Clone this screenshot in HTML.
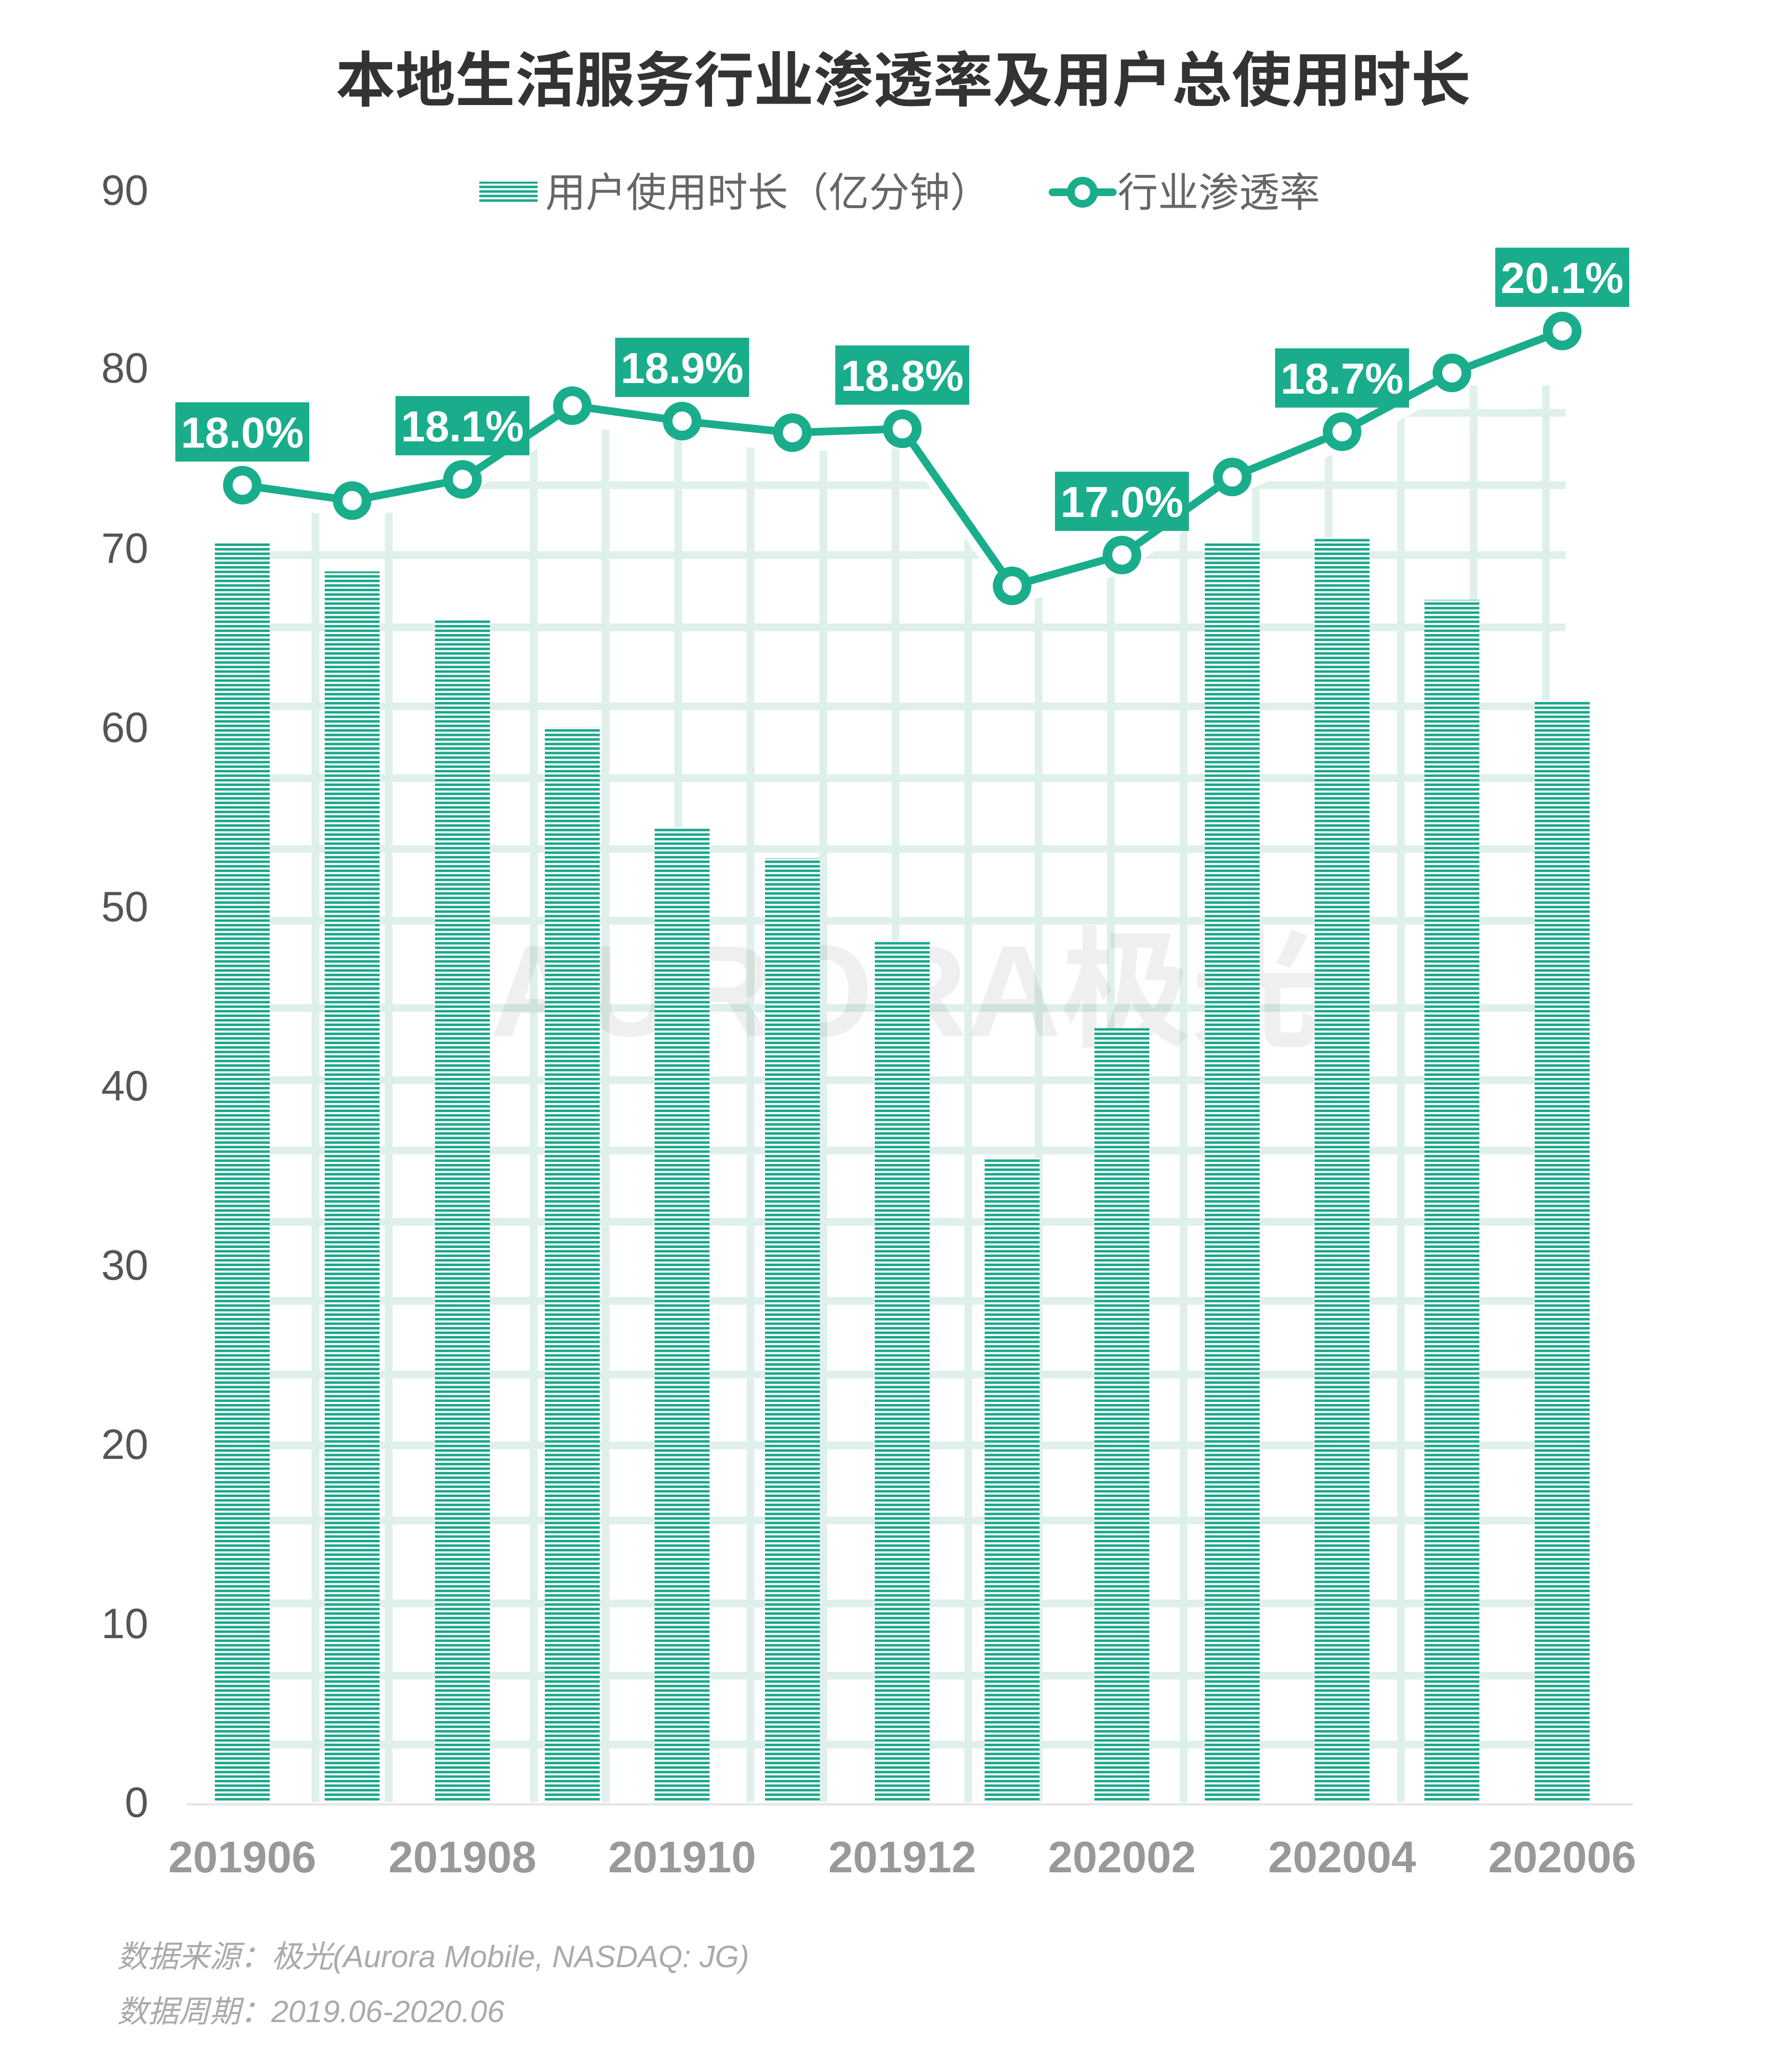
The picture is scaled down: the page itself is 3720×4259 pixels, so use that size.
<!DOCTYPE html>
<html><head><meta charset="utf-8"><style>
html,body{margin:0;padding:0;background:#fff}
svg{display:block}
</style></head><body>
<svg width="3720" height="4259" viewBox="0 0 3720 4259" xmlns="http://www.w3.org/2000/svg">
<defs>
<pattern id="st" patternUnits="userSpaceOnUse" width="20" height="9.4">
<rect width="20" height="9.4" fill="#ffffff"/>
<rect y="0" width="20" height="5.2" fill="#1aa88b"/>
</pattern>
<clipPath id="gc">
<polygon points="560,1047 731,1079 960,1035 1188,882 1416,914 1645,938 1873,930 2101,1256 2329,1192 2558,1030 2786,936 3014,814 3260,727 3260,3740 560,3740"/>
</clipPath>
</defs>
<rect width="3720" height="4259" fill="#fff"/>
<text x="1875" y="210" text-anchor="middle" font-family="'Liberation Sans','Noto Sans CJK SC',sans-serif" font-weight="bold" font-size="124" fill="#333">本地生活服务行业渗透率及用户总使用时长</text>

<g font-family="'Liberation Sans',sans-serif" font-size="88" fill="#555" text-anchor="end">
<text x="308" y="425">90</text>
<text x="308" y="794">80</text>
<text x="308" y="1168">70</text>
<text x="308" y="1540">60</text>
<text x="308" y="1912">50</text>
<text x="308" y="2284">40</text>
<text x="308" y="2656">30</text>
<text x="308" y="3028">20</text>
<text x="308" y="3400">10</text>
<text x="308" y="3771">0</text>
</g>

<g clip-path="url(#gc)" stroke="#d5ece3" stroke-width="16" opacity="0.75">
<line x1="560" y1="857" x2="3250" y2="857"/><line x1="560" y1="1007" x2="3250" y2="1007"/><line x1="560" y1="1152" x2="3250" y2="1152"/><line x1="560" y1="1302" x2="3250" y2="1302"/><line x1="560" y1="1466" x2="3250" y2="1466"/><line x1="560" y1="1615" x2="3250" y2="1615"/><line x1="560" y1="1762" x2="3250" y2="1762"/><line x1="560" y1="1911" x2="3250" y2="1911"/><line x1="560" y1="2092" x2="3250" y2="2092"/><line x1="560" y1="2242" x2="3250" y2="2242"/><line x1="560" y1="2388" x2="3250" y2="2388"/><line x1="560" y1="2536" x2="3250" y2="2536"/><line x1="560" y1="2700" x2="3250" y2="2700"/><line x1="560" y1="2853" x2="3250" y2="2853"/><line x1="560" y1="3000" x2="3250" y2="3000"/><line x1="560" y1="3156" x2="3250" y2="3156"/><line x1="560" y1="3328" x2="3250" y2="3328"/><line x1="560" y1="3478" x2="3250" y2="3478"/><line x1="560" y1="3621" x2="3250" y2="3621"/>
<line x1="655" y1="800" x2="655" y2="3740"/><line x1="807" y1="800" x2="807" y2="3740"/><line x1="1108" y1="800" x2="1108" y2="3740"/><line x1="1257" y1="800" x2="1257" y2="3740"/><line x1="1408" y1="800" x2="1408" y2="3740"/><line x1="1558" y1="800" x2="1558" y2="3740"/><line x1="1709" y1="800" x2="1709" y2="3740"/><line x1="1859" y1="800" x2="1859" y2="3740"/><line x1="2010" y1="800" x2="2010" y2="3740"/><line x1="2156" y1="800" x2="2156" y2="3740"/><line x1="2306" y1="800" x2="2306" y2="3740"/><line x1="2457" y1="800" x2="2457" y2="3740"/><line x1="2607" y1="800" x2="2607" y2="3740"/><line x1="2758" y1="800" x2="2758" y2="3740"/><line x1="2908" y1="800" x2="2908" y2="3740"/><line x1="3059" y1="800" x2="3059" y2="3740"/><line x1="3209" y1="800" x2="3209" y2="3740"/>
</g>

<text x="1880" y="2150" text-anchor="middle" font-family="'Liberation Sans','Noto Sans CJK SC',sans-serif" font-weight="bold" font-size="270" fill="#000" opacity="0.06">AURORA极光</text>

<g fill="url(#st)">
<rect x="446" y="1126" width="114" height="2614"/>
<rect x="674" y="1186" width="114" height="2554"/>
<rect x="903" y="1286" width="114" height="2454"/>
<rect x="1131" y="1509" width="114" height="2231"/>
<rect x="1359" y="1717" width="114" height="2023"/>
<rect x="1588" y="1781" width="114" height="1959"/>
<rect x="1816" y="1952" width="114" height="1788"/>
<rect x="2044" y="2402" width="114" height="1338"/>
<rect x="2272" y="2134" width="114" height="1606"/>
<rect x="2501" y="1126" width="114" height="2614"/>
<rect x="2729" y="1115" width="114" height="2625"/>
<rect x="2957" y="1245" width="114" height="2495"/>
<rect x="3186" y="1453" width="114" height="2287"/>
</g>

<line x1="388" y1="3745" x2="3390" y2="3745" stroke="#e6e6e6" stroke-width="5"/>

<polyline points="503,1007 731,1039 960,995 1188,842 1416,874 1645,898 1873,890 2101,1216 2329,1152 2558,990 2786,896 3014,774 3243,687" fill="none" stroke="#1aad8c" stroke-width="16" stroke-linejoin="round"/>
<g fill="#fff" stroke="#1aad8c" stroke-width="20">
<circle cx="503" cy="1007" r="30"/><circle cx="731" cy="1039" r="30"/><circle cx="960" cy="995" r="30"/><circle cx="1188" cy="842" r="30"/><circle cx="1416" cy="874" r="30"/><circle cx="1645" cy="898" r="30"/><circle cx="1873" cy="890" r="30"/><circle cx="2101" cy="1216" r="30"/><circle cx="2329" cy="1152" r="30"/><circle cx="2558" cy="990" r="30"/><circle cx="2786" cy="896" r="30"/><circle cx="3014" cy="774" r="30"/><circle cx="3243" cy="687" r="30"/>
</g>

<g fill="#1aad8c">
<rect x="364" y="835" width="278" height="123"/>
<rect x="821" y="822" width="278" height="123"/>
<rect x="1277" y="701" width="278" height="123"/>
<rect x="1734" y="717" width="278" height="123"/>
<rect x="2190" y="979" width="278" height="123"/>
<rect x="2647" y="723" width="278" height="123"/>
<rect x="3104" y="514" width="278" height="123"/>
</g>
<g font-family="'Liberation Sans',sans-serif" font-weight="bold" font-size="90" fill="#fff" text-anchor="middle">
<text x="503" y="929">18.0%</text>
<text x="960" y="916">18.1%</text>
<text x="1416" y="795">18.9%</text>
<text x="1873" y="811">18.8%</text>
<text x="2329" y="1073">17.0%</text>
<text x="2786" y="817">18.7%</text>
<text x="3243" y="608">20.1%</text>
</g>

<rect x="995" y="377" width="121" height="42" fill="url(#st)"/>
<g font-family="'Liberation Sans','Noto Sans CJK SC',sans-serif" font-size="84" fill="#666">
<text x="1132" y="429">用户使用时长（亿分钟）</text>
<text x="2320" y="429">行业渗透率</text>
</g>
<line x1="2185" y1="399" x2="2310" y2="399" stroke="#1aad8c" stroke-width="16" stroke-linecap="round"/>
<circle cx="2247" cy="399" r="24" fill="#fff" stroke="#1aad8c" stroke-width="16"/>

<g font-family="'Liberation Sans',sans-serif" font-weight="bold" font-size="92" fill="#999" text-anchor="middle">
<text x="503" y="3886">201906</text>
<text x="960" y="3886">201908</text>
<text x="1416" y="3886">201910</text>
<text x="1873" y="3886">201912</text>
<text x="2329" y="3886">202002</text>
<text x="2786" y="3886">202004</text>
<text x="3243" y="3886">202006</text>
</g>

<g font-family="'Liberation Sans','Noto Sans CJK SC',sans-serif" font-style="italic" font-size="64" fill="#aaa">
<text x="243" y="4083">数据来源：极光(Aurora Mobile, NASDAQ: JG)</text>
<text x="243" y="4197">数据周期：2019.06-2020.06</text>
</g>
</svg>
</body></html>
